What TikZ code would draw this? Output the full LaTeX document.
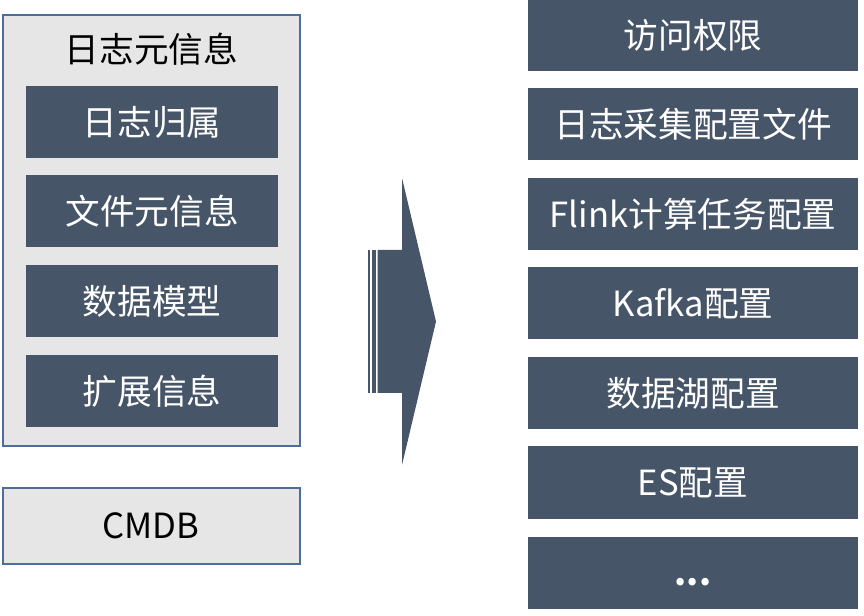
\documentclass[tikz,border=0pt]{standalone}
\usepackage{fontspec}
\setmainfont{Noto Sans CJK SC}
\usepackage{tikz}
\usepackage{xcolor}
\definecolor{slate}{HTML}{475569}
\definecolor{paper}{HTML}{E7E6E6}
\definecolor{steel}{HTML}{4E6D9A}
\tikzset{
    light-box/.style = {draw=steel, fill=paper, line width=1.5pt, rectangle, inner sep=0pt, anchor=north west},
    dark-box/.style = {fill=slate, text=white, rectangle, inner sep=0pt, minimum height=54pt, font=\fontsize{26}{30}\selectfont},
    meta-item/.style = {dark-box, minimum width=189pt},
    conf-item/.style = {dark-box, minimum width=247.5pt},
}

\begin{document}
\begin{tikzpicture}[x=0.75pt, y=-0.75pt]
\useasboundingbox (0,0) rectangle (864,616);
\node[light-box, minimum width=222.75pt, minimum height=323.25pt] (meta) at (1.5,14.5) {};
\node[font=\fontsize{26}{30}\selectfont] (meta-title) at (151.5,49) {日志元信息};
\node[meta-item] (owner) at (152,122) {日志归属};
\node[meta-item] (file-meta) at (152,211.5) {文件元信息};
\node[meta-item] (model) at (152,301) {数据模型};
\node[meta-item] (ext) at (152,391) {扩展信息};
\node[light-box, minimum width=222.75pt, minimum height=57pt, font=\fontsize{26}{30}\selectfont] (cmdb) at (1.5,487) {CMDB};

\fill[slate] (377.7,250) -- (402,250) -- (402,178) -- (436,321.5) -- (402,465) -- (402,393) -- (377.7,393) -- cycle;
\fill[slate] (367.7,250) rectangle (370,393);
\fill[slate] (372,250) rectangle (376.3,393);

\node[conf-item] (access) at (693,35) {访问权限};
\node[conf-item] (collect) at (693,124.5) {日志采集配置文件};
\node[conf-item] (flink) at (693,214.5) {Flink计算任务配置};
\node[conf-item] (kafka) at (693,303.5) {Kafka配置};
\node[conf-item] (lake) at (693,393.5) {数据湖配置};
\node[conf-item] (es) at (693,482.5) {ES配置};
\node[conf-item] (more) at (693,572.5) {\vphantom{配}\textbf{...}};
\end{tikzpicture}
\end{document}
